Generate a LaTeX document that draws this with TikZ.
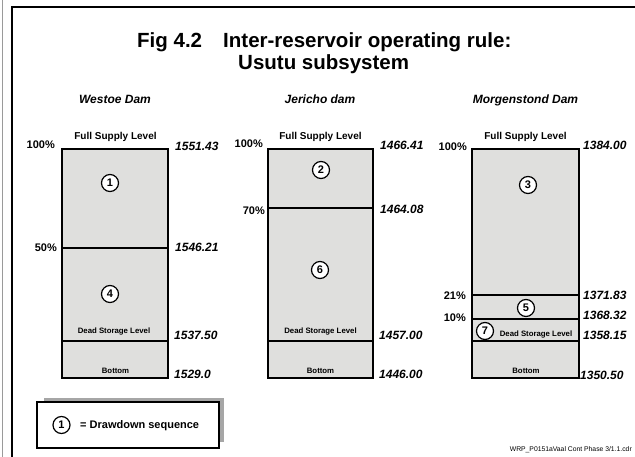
\documentclass[tikz,border=0pt]{standalone}
\usepackage{fontspec}
\setmainfont{Liberation Sans}
\definecolor{boxgray}{HTML}{DFDFDD}
\definecolor{shadowgray}{HTML}{A6A6A6}
\definecolor{framegray}{HTML}{9A9A9A}
\tikzset{
  res/.style={fill=boxgray, draw=black, line width=2pt},
  lvl/.style={draw=black, line width=2pt},
  num/.style={circle, draw=black, line width=1.2pt, fill=white, minimum size=17pt, inner sep=0pt, font=\bfseries\fontsize{11}{11}\selectfont},
  val/.style={font=\bfseries\itshape\fontsize{12}{12}\selectfont, anchor=base west, inner sep=0pt},
  pct/.style={font=\bfseries\fontsize{11}{11}\selectfont, anchor=base east, inner sep=0pt},
  fsl/.style={font=\bfseries\fontsize{10}{10}\selectfont, anchor=base, inner sep=0pt},
  small/.style={font=\bfseries\fontsize{7.8}{8}\selectfont, anchor=base, inner sep=0pt},
  dam/.style={font=\bfseries\itshape\fontsize{12}{12}\selectfont, anchor=base, inner sep=0pt},
  ttl/.style={font=\bfseries\fontsize{20.5}{21}\selectfont, anchor=base west, inner sep=0pt}
}
\begin{document}
\begin{tikzpicture}[x=1pt,y=-1pt]
\useasboundingbox (0,0) rectangle (635,457);
% frame
\draw[framegray, line width=1pt] (2.5,0) -- (2.5,457);
\draw[black, line width=2pt] (12,457) -- (12,7) -- (635,7);
% title
\node[ttl] (fig) at (137,48) {Fig 4.2};
\node[ttl] (t1) at (223,48) {Inter-reservoir operating rule:};
\node[ttl] (t2) at (238,70) {Usutu subsystem};
% dam names
\node[dam] (nW) at (115,104) {Westoe Dam};
\node[dam] (nJ) at (320,104) {Jericho dam};
\node[dam] (nM) at (525.5,104) {Morgenstond Dam};
% ---------- Westoe ----------
\draw[res] (62,149) rectangle (168,378);
\draw[lvl] (62,248) -- (168,248);
\draw[lvl] (62,341) -- (168,341);
\node[fsl] (fW) at (115.5,140) {Full Supply Level};
\node[small] (dW) at (114,334) {Dead Storage Level};
\node[small] (bW) at (115.5,373) {Bottom};
\node[num] (c1) at (110,183) {1};
\node[num] (c4) at (110,294) {4};
\node[pct] (pW1) at (55,149) {100\%};
\node[pct] (pW2) at (57,252) {50\%};
\node[val] (vW1) at (175,151) {1551.43};
\node[val] (vW2) at (175,252) {1546.21};
\node[val] (vW3) at (174,340) {1537.50};
\node[val] (vW4) at (174,378) {1529.0};
% ---------- Jericho ----------
\draw[res] (268,149) rectangle (373,378);
\draw[lvl] (268,208) -- (373,208);
\draw[lvl] (268,341) -- (373,341);
\node[fsl] (fJ) at (320.5,140) {Full Supply Level};
\node[small] (dJ) at (320.5,334) {Dead Storage Level};
\node[small] (bJ) at (320.5,373) {Bottom};
\node[num] (c2) at (321,170) {2};
\node[num] (c6) at (320,270) {6};
\node[pct] (pJ1) at (263,148) {100\%};
\node[pct] (pJ2) at (265,215) {70\%};
\node[val] (vJ1) at (380,150) {1466.41};
\node[val] (vJ2) at (380,214) {1464.08};
\node[val] (vJ3) at (379,339) {1457.00};
\node[val] (vJ4) at (379,378) {1446.00};
% ---------- Morgenstond ----------
\draw[res] (472,149) rectangle (579,378);
\draw[lvl] (472,295) -- (579,295);
\draw[lvl] (472,319) -- (579,319);
\draw[lvl] (472,341) -- (579,341);
\node[fsl] (fM) at (525.5,140) {Full Supply Level};
\node[small] (dM) at (536,336) {Dead Storage Level};
\node[small] (bM) at (526,373) {Bottom};
\node[num] (c3) at (528,185) {3};
\node[num] (c5) at (526,308) {5};
\node[num] (c7) at (485,331) {7};
\node[pct] (pM1) at (467,151) {100\%};
\node[pct] (pM2) at (466,300) {21\%};
\node[pct] (pM3) at (466,321) {10\%};
\node[val] (vM1) at (583,150) {1384.00};
\node[val] (vM2) at (583,300) {1371.83};
\node[val] (vM3) at (583,319.5) {1368.32};
\node[val] (vM4) at (583,340) {1358.15};
\node[val] (vM5) at (580,379) {1350.50};
% ---------- legend ----------
\fill[shadowgray] (44,398) rectangle (224,442);
\draw[fill=white, draw=black, line width=1.5pt] (37,402) rectangle (219,448);
\node[num] (cL) at (61.5,425) {1};
\node[font=\bfseries\fontsize{11}{11}\selectfont, anchor=base west, inner sep=0pt] (lg) at (80,428.5) {= Drawdown sequence};
% footer
\node[font=\fontsize{6.8}{7}\selectfont, anchor=base east, inner sep=0pt] (ft) at (632,451) {WRP\_P0151aVaal Cont Phase 3/1.1.cdr};
\end{tikzpicture}
\end{document}
